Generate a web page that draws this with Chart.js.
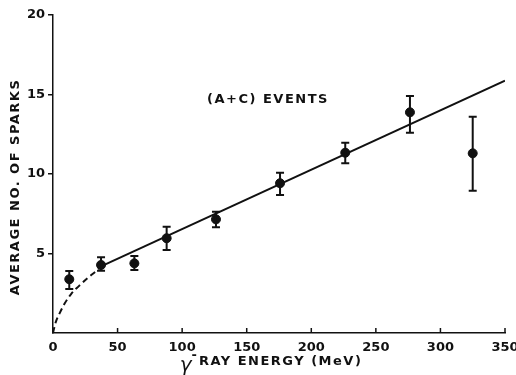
<!DOCTYPE html>
<html>
<head>
<meta charset="utf-8">
<script src="https://cdn.jsdelivr.net/npm/chart.js@4.4.1/dist/chart.umd.min.js"></script>
<style>
	html, body { margin: 0; padding: 0; background: #fff; }
	#wrap { width: 516px; height: 375px; }
</style>
</head>
<body>
<div id="wrap"><canvas id="sparksChart" width="516" height="375"></canvas></div>
<script>
const energies = [ 12.6, 37.2, 63, 88, 126.2, 175.8, 226.3, 276.4, 325 ]
const sparks = [ 3.38, 4.28, 4.38, 5.96, 7.15, 9.42, 11.34, 13.88, 11.3 ]
const errLow = [ 2.77, 3.92, 3.96, 5.22, 6.65, 8.68, 10.67, 12.6, 8.95 ]
const errHigh = [ 3.9, 4.76, 4.84, 6.69, 7.63, 10.08, 11.97, 14.9, 13.6 ]

// straight fit line (solid)
const fitX = [ 38, 350 ]
const fitY = [ 4.22, 15.87 ]

// low energy extrapolation (dashed)
const curveX = [ 0, 2, 5, 9, 14, 20, 27, 33, 38 ]
const curveY = [ 0, 0.65, 1.22, 1.85, 2.45, 2.95, 3.47, 3.87, 4.22 ]

const xTicks = [ 0, 50, 100, 150, 200, 250, 300, 350 ]
const yTicks = [ 5, 10, 15, 20 ]

const INK = '#111'
const FONT = '"DejaVu Sans", sans-serif'

const toPoints = (xs, ys) => xs.map( (x, i) => ( { x, y: ys[i] } ) )

const errorBars = {
	id: 'errorBars',
	afterDatasetsDraw(chart) {
		const { ctx, scales: { x, y } } = chart
		ctx.save()
		ctx.strokeStyle = INK
		ctx.lineWidth = 2
		energies.forEach( (e, i) => {
			const px = x.getPixelForValue( e )
			const top = y.getPixelForValue( errHigh[i] )
			const bot = y.getPixelForValue( errLow[i] )
			ctx.beginPath()
			ctx.moveTo( px, top )
			ctx.lineTo( px, bot )
			ctx.moveTo( px - 4, top )
			ctx.lineTo( px + 4, top )
			ctx.moveTo( px - 4, bot )
			ctx.lineTo( px + 4, bot )
			ctx.stroke()
		} )
		ctx.restore()
	}
}

const labels = {
	id: 'labels',
	afterDraw(chart) {
		const { ctx, chartArea, scales: { x } } = chart
		ctx.save()
		ctx.fillStyle = INK
		ctx.strokeStyle = INK

		// x ticks point up into the plot
		ctx.lineWidth = 1.5
		xTicks.slice( 1 ).forEach( t => {
			const px = x.getPixelForValue( t )
			ctx.beginPath()
			ctx.moveTo( px, chartArea.bottom )
			ctx.lineTo( px, chartArea.bottom - 5 )
			ctx.stroke()
		} )

		// annotation
		ctx.font = 'bold 13px ' + FONT
		ctx.letterSpacing = '1.5px'
		ctx.textAlign = 'center'
		ctx.textBaseline = 'middle'
		ctx.fillText( '(A+C) EVENTS', 268, 100 )

		// y title
		ctx.save()
		ctx.translate( 16, 187 )
		ctx.rotate( -Math.PI / 2 )
		ctx.fillText( 'AVERAGE NO. OF SPARKS', 0, 0 )
		ctx.restore()

		// x title: italic gamma, raised dash, rest
		ctx.textAlign = 'left'
		ctx.letterSpacing = '0px'
		ctx.font = 'italic 20px ' + FONT
		const gW = ctx.measureText( 'γ' ).width
		ctx.font = 'bold 13px ' + FONT
		const dW = ctx.measureText( '-' ).width
		ctx.letterSpacing = '1.5px'
		const rest = 'RAY ENERGY (MeV)'
		const rW = ctx.measureText( rest ).width
		let cx = 271 - ( gW + dW + 2 + rW ) / 2
		ctx.letterSpacing = '0px'
		ctx.font = 'italic 20px ' + FONT
		ctx.fillText( 'γ', cx, 366 )
		cx += gW
		ctx.font = 'bold 13px ' + FONT
		ctx.fillText( '-', cx, 356 )
		cx += dW + 2
		ctx.letterSpacing = '1.5px'
		ctx.fillText( rest, cx, 362 )
		ctx.restore()
	}
}

const sparksChart = document.getElementById( 'sparksChart' )
new Chart( sparksChart, {
	type: 'scatter',
	data: {
		datasets: [ {
			data: toPoints( energies, sparks ),
			backgroundColor: INK,
			borderColor: INK,
			pointRadius: 4.5,
			pointHoverRadius: 4.5,
			order: 0
		}, {
			data: toPoints( fitX, fitY ),
			showLine: true,
			borderColor: INK,
			borderWidth: 2,
			pointRadius: 0,
			order: 1
		}, {
			data: toPoints( curveX, curveY ),
			showLine: true,
			borderColor: INK,
			borderWidth: 2,
			borderDash: [ 6, 4 ],
			cubicInterpolationMode: 'monotone',
			pointRadius: 0,
			clip: false,
			order: 2
		} ]
	},
	options: {
		responsive: false,
		animation: false,
		events: [],
		layout: {
			padding: { top: 15, right: 11, left: 0, bottom: 0 }
		},
		plugins: {
			legend: { display: false },
			tooltip: { enabled: false }
		},
		scales: {
			x: {
				type: 'linear',
				min: 0,
				max: 350,
				afterFit: scale => {
					scale.height = 42
					scale.paddingLeft = 0
					scale.paddingRight = 0
				},
				afterBuildTicks: scale => { scale.ticks = xTicks.map( v => ( { value: v } ) ) },
				grid: { drawOnChartArea: false, drawTicks: false },
				border: { color: INK, width: 1.5 },
				ticks: {
					color: INK,
					padding: 7,
					font: { family: FONT, size: 13, weight: 'bold' }
				}
			},
			y: {
				type: 'linear',
				min: 0,
				max: 20,
				afterFit: scale => {
					scale.width = 53
					scale.paddingTop = 0
					scale.paddingBottom = 0
				},
				afterBuildTicks: scale => { scale.ticks = yTicks.map( v => ( { value: v } ) ) },
				grid: { drawOnChartArea: false, tickLength: 5, color: INK, lineWidth: 1.5 },
				border: { color: INK, width: 1.5 },
				ticks: {
					color: INK,
					padding: 3,
					font: { family: FONT, size: 13, weight: 'bold' }
				}
			}
		}
	},
	plugins: [ errorBars, labels ]
} )
</script>
</body>
</html>
